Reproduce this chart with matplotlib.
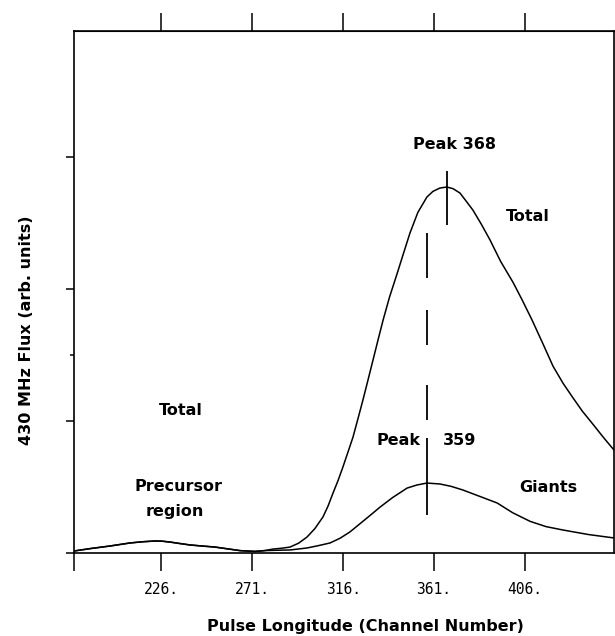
import numpy as np
import matplotlib
matplotlib.use("Agg")
import matplotlib.pyplot as plt

# ---- data (channel, flux in arb. units) ----
precursor_ch = [182.6, 191.0, 200.5, 210.4, 216.5, 222.8, 226.0, 230.2, 235.0,
                240.1, 246.0, 252.5, 258.5, 264.9, 272.3, 277.0]
precursor_flux = [0.015, 0.034, 0.053, 0.076, 0.085, 0.091, 0.090, 0.083, 0.072,
                  0.061, 0.053, 0.045, 0.032, 0.018, 0.012, 0.018]

total_ch = [281.3, 285.5, 289.7, 294.0, 298.1, 302.0, 306.0, 308.5, 311.0,
            313.5, 315.9, 318.4, 320.9, 323.3, 325.8, 328.3, 330.8, 333.3,
            335.8, 339.0, 342.7, 346.0, 349.1, 353.0, 357.5, 360.5, 363.9,
            367.4, 370.5, 373.9, 376.5, 380.3, 384.5, 388.8, 394.0, 400.2,
            404.6, 409.6, 415.0, 420.0, 425.0, 429.9, 434.5, 439.8, 445.0, 450.2]
total_flux = [0.030, 0.036, 0.045, 0.075, 0.121, 0.185, 0.273, 0.355, 0.455,
              0.550, 0.652, 0.765, 0.879, 1.015, 1.159, 1.310, 1.462, 1.615,
              1.765, 1.940, 2.115, 2.275, 2.424, 2.580, 2.697, 2.740, 2.765,
              2.773, 2.760, 2.727, 2.675, 2.598, 2.490, 2.371, 2.210, 2.050,
              1.920, 1.765, 1.585, 1.415, 1.285, 1.175, 1.075, 0.975, 0.875, 0.780]

giants_ch = [281.3, 289.7, 298.1, 303.5, 309.5, 314.5, 319.4, 325.0, 330.8,
             334.3, 340.5, 347.7, 352.5, 357.5, 363.9, 369.5, 375.4, 383.5,
             392.3, 400.0, 408.6, 416.5, 425.0, 437.5, 450.2]
giants_flux = [0.020, 0.023, 0.038, 0.055, 0.076, 0.112, 0.160, 0.230, 0.303,
               0.348, 0.420, 0.492, 0.515, 0.530, 0.523, 0.505, 0.477, 0.430,
               0.379, 0.305, 0.240, 0.200, 0.174, 0.140, 0.114]

peak_total = 367.5
peak_total_mark = (2.485, 2.894)
peak_giants = 357.3
peak_giants_mark = (0.288, 0.871)
dash_lo = [1.008, 1.576, 2.083]            # dashed guide segments
dash_hi = [1.273, 1.841, 2.424]

xticks = [226, 271, 316, 361, 406]
xticklabels = ["226.", "271.", "316.", "361.", "406."]
XMIN, XMAX = 182.4, 450.2
YMAX = 3.955

fig = plt.figure(figsize=(6.15, 6.36), dpi=100)
ax = fig.add_axes([73.5 / 615, 83 / 636, 540.5 / 615, 522 / 636])

ax.plot(precursor_ch + total_ch, precursor_flux + total_flux, color="k", lw=1.1)
ax.plot(precursor_ch + giants_ch, precursor_flux + giants_flux, color="k", lw=1.1)
ax.vlines(peak_total, *peak_total_mark, color="k", lw=1.3)
ax.vlines(peak_giants, *peak_giants_mark, color="k", lw=1.3)
ax.vlines([peak_giants] * 3, dash_lo, dash_hi, color="k", lw=1.3)

ax.set_xlim(XMIN, XMAX)
ax.set_ylim(0, YMAX)
ax.set_xticks([XMIN] + xticks)
ax.set_xticklabels([""] + xticklabels, family="DejaVu Sans Mono", fontsize=10.5)
ax.tick_params(axis="x", direction="out", length=13, width=1.1, pad=8)
ax.set_yticks([0, 1, 2, 3])
ax.set_yticks([1.5], minor=True)
ax.set_yticklabels([])
ax.tick_params(axis="y", which="major", direction="out", length=6, width=1.1)
ax.tick_params(axis="y", which="minor", direction="out", length=3, width=1.1)
for s in ax.spines.values():
    s.set_linewidth(1.2)

top = ax.secondary_xaxis("top")
top.set_xticks(xticks)
top.set_xticklabels([])
top.tick_params(direction="out", length=13, width=1.1)

bold = dict(fontsize=11.5, fontweight="bold", ha="center", va="baseline")
ax.text(371.4, 3.06, "Peak 368", **bold)
ax.text(407.4, 2.517, "Total", **bold)
ax.text(235.7, 1.045, "Total", **bold)
ax.text(234.2, 0.47, "Precursor", **bold)
ax.text(232.7, 0.28, "region", **bold)
ax.text(343.2, 0.818, "Peak", **bold)
ax.text(373.7, 0.818, "359", **bold)
ax.text(417.8, 0.462, "Giants", **bold)

fig.text(365 / 615, 1 - 627 / 636, "Pulse Longitude (Channel Number)",
         fontsize=11.5, fontweight="bold", ha="center", va="center")
fig.text(27 / 615, 1 - 330 / 636, "430 MHz Flux (arb. units)", rotation=90,
         fontsize=11.5, fontweight="bold", ha="center", va="center")

fig.savefig("out.png", dpi=100)
